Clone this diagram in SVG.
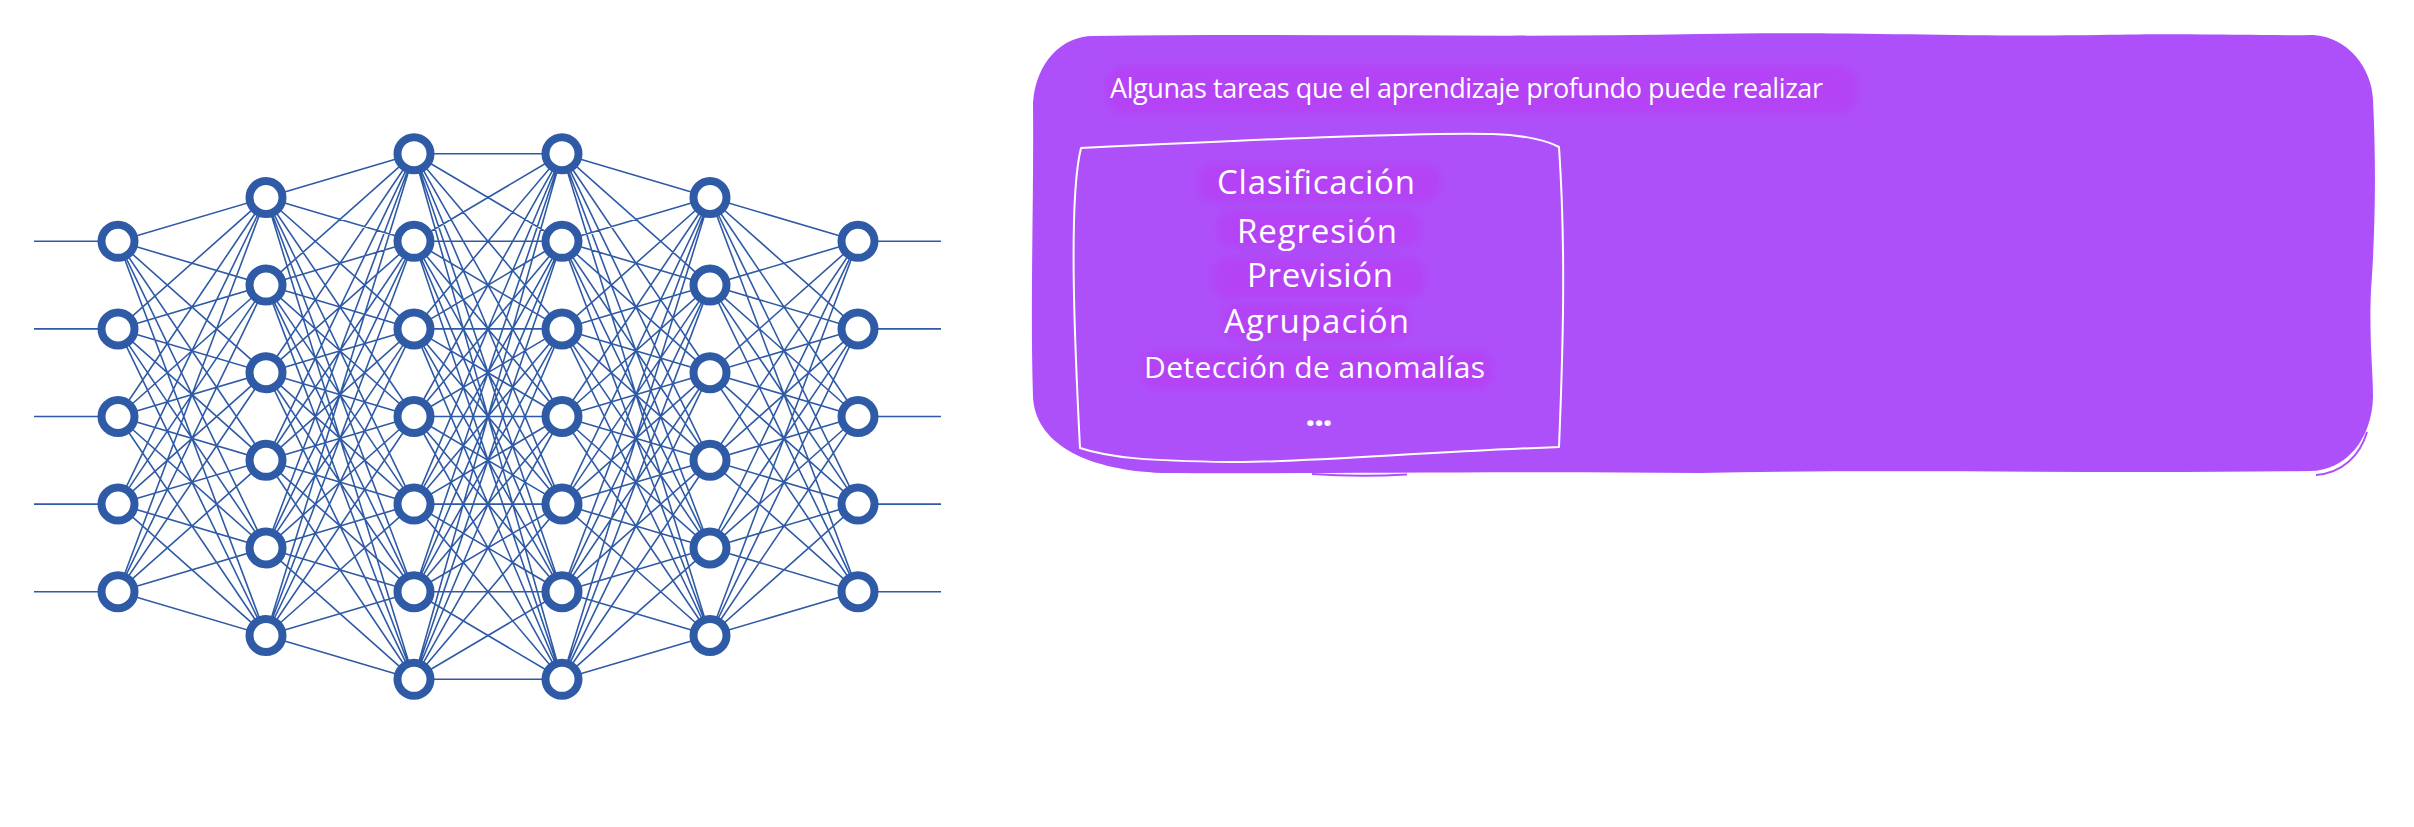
<svg xmlns="http://www.w3.org/2000/svg" width="2414" height="827" viewBox="0 0 2414 827">
<style>
.conn{fill:none;stroke:#2f5aa6;stroke-width:1.6}
.node{fill:#ffffff;stroke:#2f5aa6;stroke-width:8}
.hl{fill:#b83af2;opacity:0.6;filter:url(#blur)}
.t{font-family:"Open Sans",Roboto,"Liberation Sans",sans-serif;font-weight:500;fill:#ffffff;text-anchor:middle}
.dots{font-weight:800}
.edge{fill:none;stroke:#ae50fa;stroke-width:2}
</style>
<defs>
<filter id="blur" x="-10%" y="-40%" width="120%" height="180%"><feGaussianBlur stdDeviation="4"/></filter>
</defs>
<rect width="2414" height="827" fill="#ffffff"/>

<g id="connectors" class="conn">
<path d="M34 241.3H118M34 328.9H118M34 416.5H118M34 504.1H118M34 591.7H118"/>
<path d="M858 241.3H941M858 328.9H941M858 416.5H941M858 504.1H941M858 591.7H941"/>
<path d="M118 241.3L266 197.5M118 241.3L266 285.1M118 241.3L266 372.7M118 241.3L266 460.3M118 241.3L266 547.9M118 241.3L266 635.5M118 328.9L266 197.5M118 328.9L266 285.1M118 328.9L266 372.7M118 328.9L266 460.3M118 328.9L266 547.9M118 328.9L266 635.5M118 416.5L266 197.5M118 416.5L266 285.1M118 416.5L266 372.7M118 416.5L266 460.3M118 416.5L266 547.9M118 416.5L266 635.5M118 504.1L266 197.5M118 504.1L266 285.1M118 504.1L266 372.7M118 504.1L266 460.3M118 504.1L266 547.9M118 504.1L266 635.5M118 591.7L266 197.5M118 591.7L266 285.1M118 591.7L266 372.7M118 591.7L266 460.3M118 591.7L266 547.9M118 591.7L266 635.5"/>
<path d="M266 197.5L414 153.7M266 197.5L414 241.3M266 197.5L414 328.9M266 197.5L414 416.5M266 197.5L414 504.1M266 197.5L414 591.7M266 197.5L414 679.3M266 285.1L414 153.7M266 285.1L414 241.3M266 285.1L414 328.9M266 285.1L414 416.5M266 285.1L414 504.1M266 285.1L414 591.7M266 285.1L414 679.3M266 372.7L414 153.7M266 372.7L414 241.3M266 372.7L414 328.9M266 372.7L414 416.5M266 372.7L414 504.1M266 372.7L414 591.7M266 372.7L414 679.3M266 460.3L414 153.7M266 460.3L414 241.3M266 460.3L414 328.9M266 460.3L414 416.5M266 460.3L414 504.1M266 460.3L414 591.7M266 460.3L414 679.3M266 547.9L414 153.7M266 547.9L414 241.3M266 547.9L414 328.9M266 547.9L414 416.5M266 547.9L414 504.1M266 547.9L414 591.7M266 547.9L414 679.3M266 635.5L414 153.7M266 635.5L414 241.3M266 635.5L414 328.9M266 635.5L414 416.5M266 635.5L414 504.1M266 635.5L414 591.7M266 635.5L414 679.3"/>
<path d="M414 153.7L562 153.7M414 153.7L562 241.3M414 153.7L562 328.9M414 153.7L562 416.5M414 153.7L562 504.1M414 153.7L562 591.7M414 153.7L562 679.3M414 241.3L562 153.7M414 241.3L562 241.3M414 241.3L562 328.9M414 241.3L562 416.5M414 241.3L562 504.1M414 241.3L562 591.7M414 241.3L562 679.3M414 328.9L562 153.7M414 328.9L562 241.3M414 328.9L562 328.9M414 328.9L562 416.5M414 328.9L562 504.1M414 328.9L562 591.7M414 328.9L562 679.3M414 416.5L562 153.7M414 416.5L562 241.3M414 416.5L562 328.9M414 416.5L562 416.5M414 416.5L562 504.1M414 416.5L562 591.7M414 416.5L562 679.3M414 504.1L562 153.7M414 504.1L562 241.3M414 504.1L562 328.9M414 504.1L562 416.5M414 504.1L562 504.1M414 504.1L562 591.7M414 504.1L562 679.3M414 591.7L562 153.7M414 591.7L562 241.3M414 591.7L562 328.9M414 591.7L562 416.5M414 591.7L562 504.1M414 591.7L562 591.7M414 591.7L562 679.3M414 679.3L562 153.7M414 679.3L562 241.3M414 679.3L562 328.9M414 679.3L562 416.5M414 679.3L562 504.1M414 679.3L562 591.7M414 679.3L562 679.3"/>
<path d="M562 153.7L710 197.5M562 153.7L710 285.1M562 153.7L710 372.7M562 153.7L710 460.3M562 153.7L710 547.9M562 153.7L710 635.5M562 241.3L710 197.5M562 241.3L710 285.1M562 241.3L710 372.7M562 241.3L710 460.3M562 241.3L710 547.9M562 241.3L710 635.5M562 328.9L710 197.5M562 328.9L710 285.1M562 328.9L710 372.7M562 328.9L710 460.3M562 328.9L710 547.9M562 328.9L710 635.5M562 416.5L710 197.5M562 416.5L710 285.1M562 416.5L710 372.7M562 416.5L710 460.3M562 416.5L710 547.9M562 416.5L710 635.5M562 504.1L710 197.5M562 504.1L710 285.1M562 504.1L710 372.7M562 504.1L710 460.3M562 504.1L710 547.9M562 504.1L710 635.5M562 591.7L710 197.5M562 591.7L710 285.1M562 591.7L710 372.7M562 591.7L710 460.3M562 591.7L710 547.9M562 591.7L710 635.5M562 679.3L710 197.5M562 679.3L710 285.1M562 679.3L710 372.7M562 679.3L710 460.3M562 679.3L710 547.9M562 679.3L710 635.5"/>
<path d="M710 197.5L858 241.3M710 197.5L858 328.9M710 197.5L858 416.5M710 197.5L858 504.1M710 197.5L858 591.7M710 285.1L858 241.3M710 285.1L858 328.9M710 285.1L858 416.5M710 285.1L858 504.1M710 285.1L858 591.7M710 372.7L858 241.3M710 372.7L858 328.9M710 372.7L858 416.5M710 372.7L858 504.1M710 372.7L858 591.7M710 460.3L858 241.3M710 460.3L858 328.9M710 460.3L858 416.5M710 460.3L858 504.1M710 460.3L858 591.7M710 547.9L858 241.3M710 547.9L858 328.9M710 547.9L858 416.5M710 547.9L858 504.1M710 547.9L858 591.7M710 635.5L858 241.3M710 635.5L858 328.9M710 635.5L858 416.5M710 635.5L858 504.1M710 635.5L858 591.7"/>
</g>

<g id="layer-input">
<circle class="node" cx="118" cy="241.3" r="16.5"/>
<circle class="node" cx="118" cy="328.9" r="16.5"/>
<circle class="node" cx="118" cy="416.5" r="16.5"/>
<circle class="node" cx="118" cy="504.1" r="16.5"/>
<circle class="node" cx="118" cy="591.7" r="16.5"/>
</g>
<g id="layer-hidden-1">
<circle class="node" cx="266" cy="197.5" r="16.5"/>
<circle class="node" cx="266" cy="285.1" r="16.5"/>
<circle class="node" cx="266" cy="372.7" r="16.5"/>
<circle class="node" cx="266" cy="460.3" r="16.5"/>
<circle class="node" cx="266" cy="547.9" r="16.5"/>
<circle class="node" cx="266" cy="635.5" r="16.5"/>
</g>
<g id="layer-hidden-2">
<circle class="node" cx="414" cy="153.7" r="16.5"/>
<circle class="node" cx="414" cy="241.3" r="16.5"/>
<circle class="node" cx="414" cy="328.9" r="16.5"/>
<circle class="node" cx="414" cy="416.5" r="16.5"/>
<circle class="node" cx="414" cy="504.1" r="16.5"/>
<circle class="node" cx="414" cy="591.7" r="16.5"/>
<circle class="node" cx="414" cy="679.3" r="16.5"/>
</g>
<g id="layer-hidden-3">
<circle class="node" cx="562" cy="153.7" r="16.5"/>
<circle class="node" cx="562" cy="241.3" r="16.5"/>
<circle class="node" cx="562" cy="328.9" r="16.5"/>
<circle class="node" cx="562" cy="416.5" r="16.5"/>
<circle class="node" cx="562" cy="504.1" r="16.5"/>
<circle class="node" cx="562" cy="591.7" r="16.5"/>
<circle class="node" cx="562" cy="679.3" r="16.5"/>
</g>
<g id="layer-hidden-4">
<circle class="node" cx="710" cy="197.5" r="16.5"/>
<circle class="node" cx="710" cy="285.1" r="16.5"/>
<circle class="node" cx="710" cy="372.7" r="16.5"/>
<circle class="node" cx="710" cy="460.3" r="16.5"/>
<circle class="node" cx="710" cy="547.9" r="16.5"/>
<circle class="node" cx="710" cy="635.5" r="16.5"/>
</g>
<g id="layer-output">
<circle class="node" cx="858" cy="241.3" r="16.5"/>
<circle class="node" cx="858" cy="328.9" r="16.5"/>
<circle class="node" cx="858" cy="416.5" r="16.5"/>
<circle class="node" cx="858" cy="504.1" r="16.5"/>
<circle class="node" cx="858" cy="591.7" r="16.5"/>
</g>

<g id="tasks-panel">
<path fill="#ae50fa" d="M1093 36C1300 33 1500 38 1700 34C1850 31 1950 37 2100 35C2200 33 2260 36 2313 35C2348 37 2372 68 2373 100C2377 180 2374 250 2371 290C2369 340 2373 370 2373 397C2372 440 2345 471 2310 471C2100 474 1900 469 1700 473C1500 471 1300 474 1163 473C1080 470 1035 440 1033 397C1030 300 1034 200 1033 103C1036 62 1062 36 1093 36Z"/>
<path class="edge" d="M2367 432C2360 456 2342 473 2316 475"/>
<path class="edge" d="M1312 474C1340 476 1380 476 1407 474.5"/>
<rect class="hl" x="1106" y="66" width="752" height="48" rx="20"/>
<text class="t" x="1466.5" y="98" font-size="27" textLength="713">Algunas tareas que el aprendizaje profundo puede realizar</text>
</g>

<g id="tasks-list">
<path fill="none" stroke="#ffffff" stroke-width="2" stroke-linejoin="round" d="M1081 148C1250 140 1420 132 1493 134C1525 135 1548 141 1559 147C1566 250 1563 350 1559 447C1420 452 1300 463 1230 462C1150 461 1110 458 1080 448C1075 350 1068 200 1081 148Z"/>
<rect class="hl" x="1198" y="164" width="242" height="38" rx="14"/>
<rect class="hl" x="1217" y="211" width="203" height="36" rx="14"/>
<rect class="hl" x="1212" y="258" width="213" height="40" rx="14"/>
<rect class="hl" x="1222" y="304" width="188" height="36" rx="14"/>
<rect class="hl" x="1142" y="351" width="351" height="38" rx="14"/>
<text class="t" x="1316" y="194" font-size="33" textLength="198">Clasificación</text>
<text class="t" x="1317" y="242.5" font-size="33" textLength="160">Regresión</text>
<text class="t" x="1320" y="287" font-size="33" textLength="146">Previsión</text>
<text class="t" x="1316.5" y="333" font-size="33" textLength="185">Agrupación</text>
<text class="t" x="1314.5" y="378" font-size="30" textLength="341">Detección de anomalías</text>
<text class="t dots" x="1319" y="426" font-size="30">...</text>
</g>
</svg>
